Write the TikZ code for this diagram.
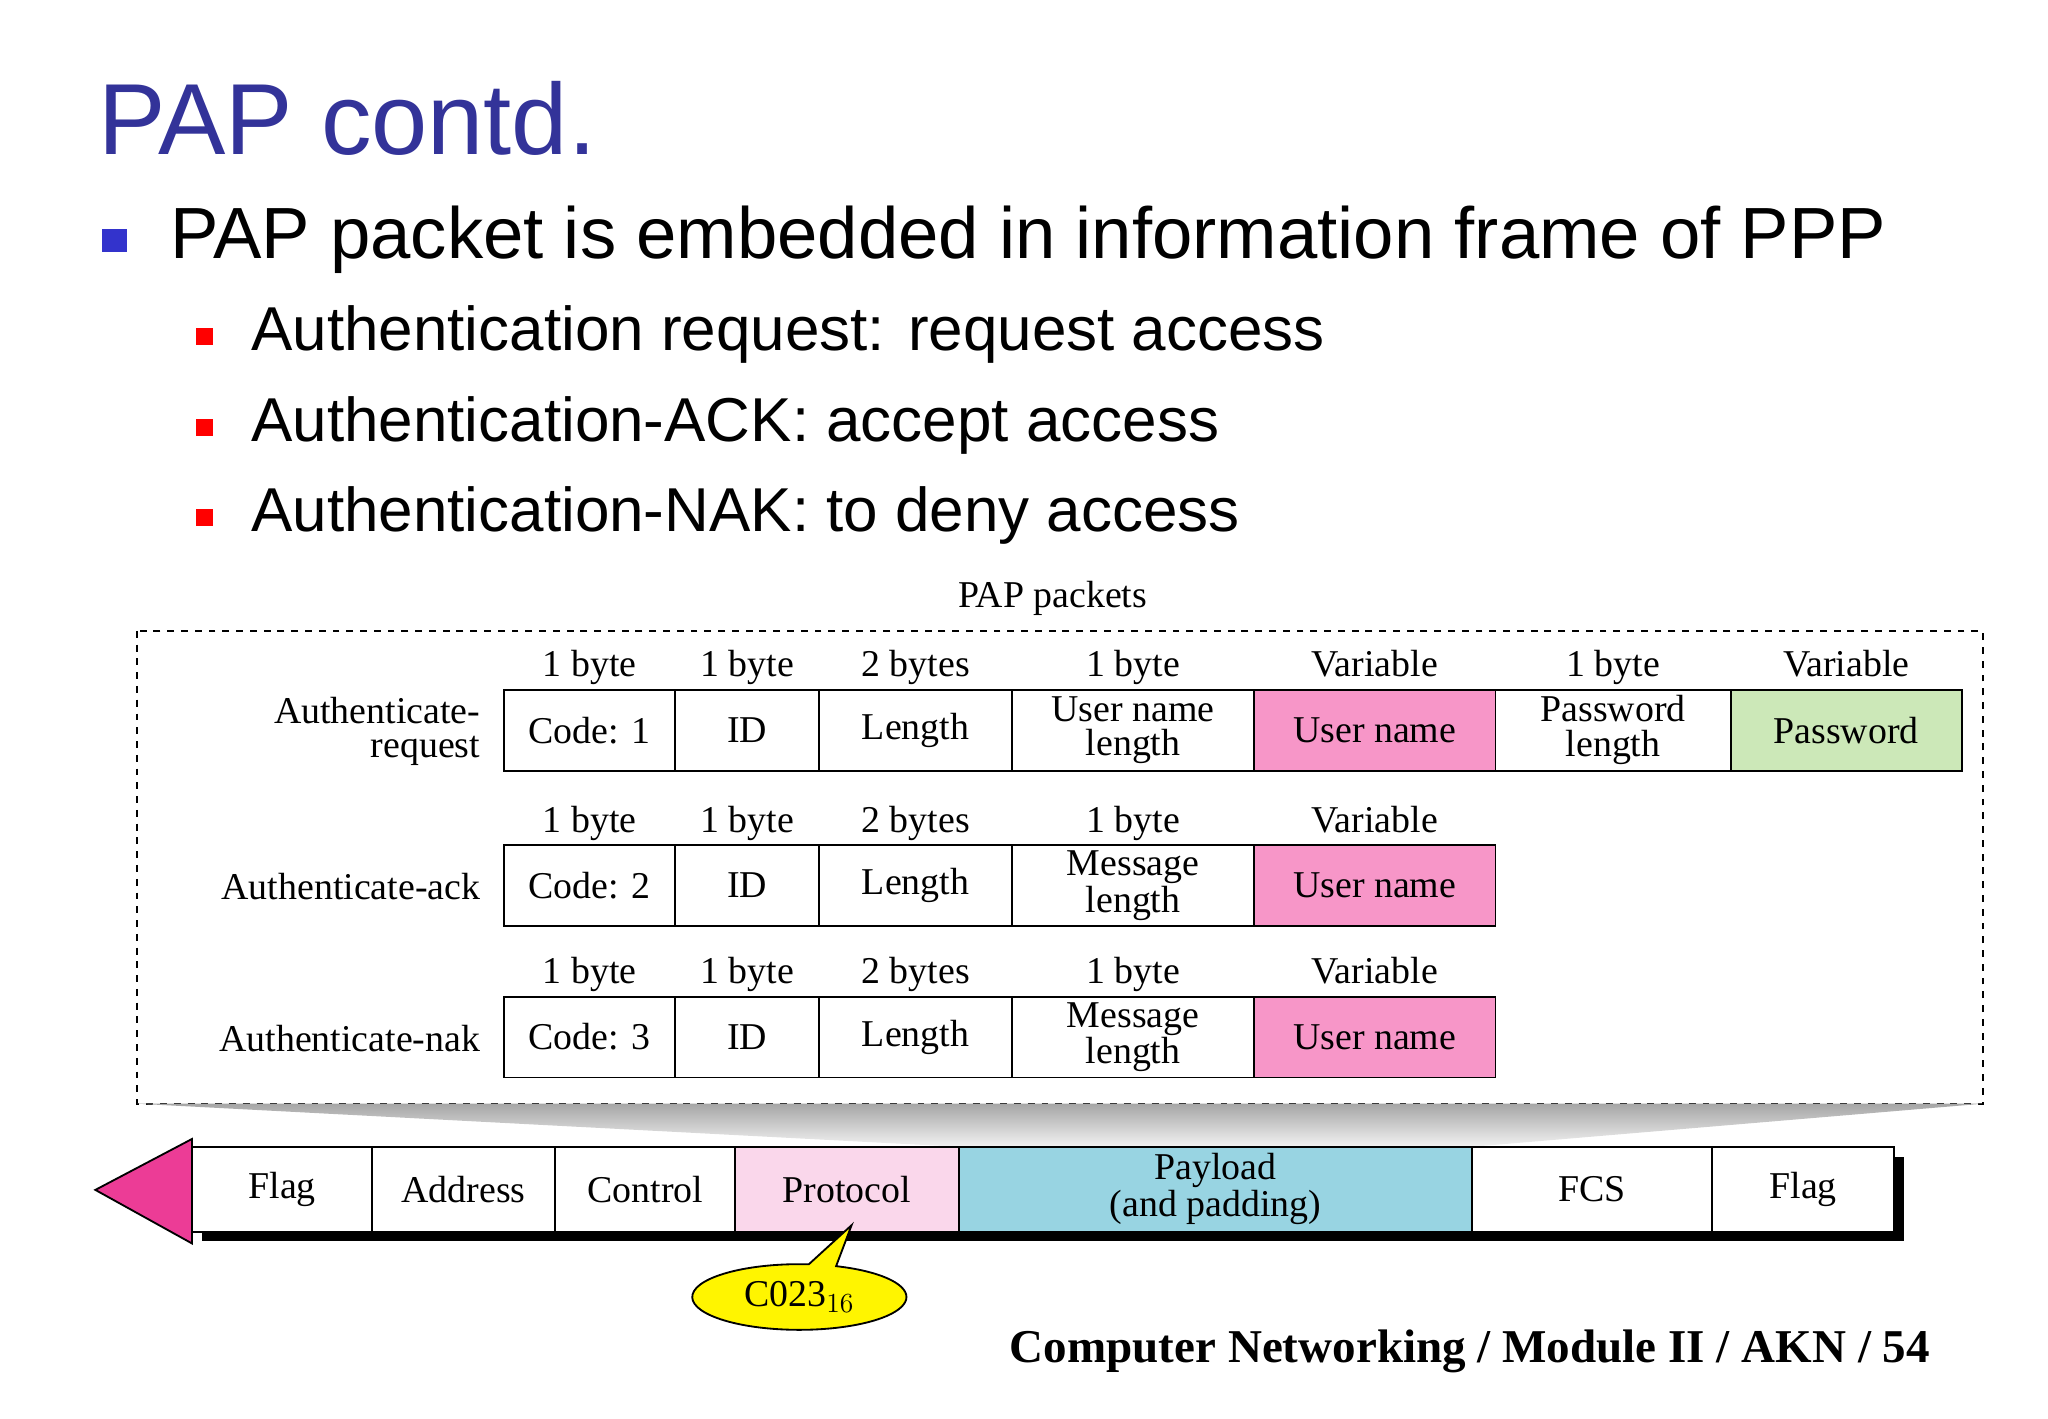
\documentclass[tikz,border=0pt]{standalone}
\usepackage{fontspec}
\setmainfont{Liberation Serif}
\newfontfamily\slidefont{Liberation Sans}
\usetikzlibrary{calc,shapes.geometric,shapes.callouts}
\definecolor{titleblue}{RGB}{51,51,153}
\definecolor{bulletblue}{RGB}{51,51,204}
\definecolor{unpink}{RGB}{247,150,200}
\definecolor{pwgreen}{RGB}{204,232,184}
\definecolor{protopink}{RGB}{250,215,235}
\definecolor{paycyan}{RGB}{152,212,226}
\definecolor{arrowpink}{RGB}{236,60,150}
\definecolor{callyellow}{RGB}{255,245,0}
\tikzset{
  field/.style={draw, thick, minimum height=62*0.2mm, inner sep=0pt, align=center,
    font=\fontsize{16.5}{15}\selectfont},
  hdr/.style={font=\fontsize{16.5}{16}\selectfont, inner sep=0pt, text height=11pt, text depth=3pt},
  lbl/.style={font=\fontsize{16.5}{15}\selectfont, inner sep=0pt, align=right, anchor=east},
  ffield/.style={field, minimum height=65*0.2mm, fill=white},
}
\begin{document}
\begin{tikzpicture}[x=0.2mm,y=-0.2mm]
\useasboundingbox (0,0) rectangle (1568,1086);
% title and bullets
\node[anchor=base west, inner sep=0, text=titleblue, font=\slidefont\fontsize{44}{48}\selectfont] (title) at (75,118) {PAP contd.};
\fill[bulletblue] (78,175) rectangle (97,193);
\node[anchor=base west, inner sep=0, font=\slidefont\fontsize{31.6}{36}\selectfont] (b1) at (130,198) {PAP packet is embedded in information frame of PPP};
\foreach \yy/\tx in {268/{Authentication request: request access}, 338/{Authentication-ACK: accept access}, 407/{Authentication-NAK: to deny access}}{
  \fill[red] (150,\yy-17) rectangle (163,\yy-4);
  \node[anchor=base west, inner sep=0, font=\slidefont\fontsize{27}{30}\selectfont] at (192,\yy) {\tx};
}
% PAP packets box
\node[hdr] (cap) at (806,458) {PAP packets};
\draw[thick, dashed] (105,483) rectangle (1518,845);
% rows
\foreach \r/\yt/\code in {1/528/1, 2/647/2, 3/763/3}{
  \node[field, minimum width=131*0.2mm] (c\r) at (451.5,\yt+31) {Code: \code};
  \node[field, minimum width=110*0.2mm] (i\r) at (572,\yt+31) {ID};
  \node[field, minimum width=148*0.2mm] (l\r) at (701,\yt+31) {Length};
  \node[hdr] at (451.5,\yt-17) {1 byte};
  \node[hdr] at (572,\yt-17) {1 byte};
  \node[hdr] at (701,\yt-17) {2 bytes};
  \node[hdr] at (867.5,\yt-17) {1 byte};
  \node[hdr] at (1052.5,\yt-17) {Variable};
  \node[field, minimum width=185*0.2mm, fill=unpink] (u\r) at (1052.5,\yt+31) {User name};
}
\node[field, minimum width=185*0.2mm] (ul1) at (867.5,559) {User name\\length};
\node[field, minimum width=185*0.2mm] (ml2) at (867.5,678) {Message\\length};
\node[field, minimum width=185*0.2mm] (ml3) at (867.5,794) {Message\\length};
\node[field, minimum width=180*0.2mm] (pl1) at (1235,559) {Password\\length};
\node[field, minimum width=177*0.2mm, fill=pwgreen] (pw1) at (1413.5,559) {Password};
\node[hdr] at (1235,511) {1 byte};
\node[hdr] at (1413.5,511) {Variable};
\node[lbl] (r1) at (368,560) {Authenticate-\\request};
\node[lbl] (r2) at (368,679) {Authenticate-ack};
\node[lbl] (r3) at (368,795) {Authenticate-nak};
% funnel
\shade[top color=gray!70, bottom color=gray!10] (105,845) -- (1518,845) -- (1127,878) -- (734,878) -- cycle;
% PPP frame
\fill[black] (155,886) rectangle (1458,950);
\node[ffield, minimum width=138*0.2mm] (f1) at (216,910.5) {Flag};
\node[ffield, minimum width=140*0.2mm] (f2) at (355,910.5) {Address};
\node[ffield, minimum width=138*0.2mm] (f3) at (494,910.5) {Control};
\node[ffield, minimum width=171*0.2mm, fill=protopink] (f4) at (648.5,910.5) {Protocol};
\node[ffield, minimum width=393*0.2mm, fill=paycyan] (f5) at (930.5,910.5) {Payload\\(and padding)};
\node[ffield, minimum width=184*0.2mm] (f6) at (1219,910.5) {FCS};
\node[ffield, minimum width=139*0.2mm] (f7) at (1380.5,910.5) {Flag};
\fill[arrowpink, draw=black, thick] (73,911) -- (147,872) -- (147,952) -- cycle;
% callout
\coordinate (tip) at (652,938);
\node[ellipse callout, draw, thick, fill=callyellow, minimum width=164*0.2mm, minimum height=48*0.2mm,
  callout absolute pointer=(tip), font=\fontsize{16.5}{16}\selectfont] (cal) at (612,993) {C023$_{16}$};
% footer
\node[anchor=base east, inner sep=0, font=\bfseries\fontsize{20.5}{22}\selectfont] (foot) at (1478,1043) {Computer Networking / Module II / AKN / 54};
\end{tikzpicture}
\end{document}
